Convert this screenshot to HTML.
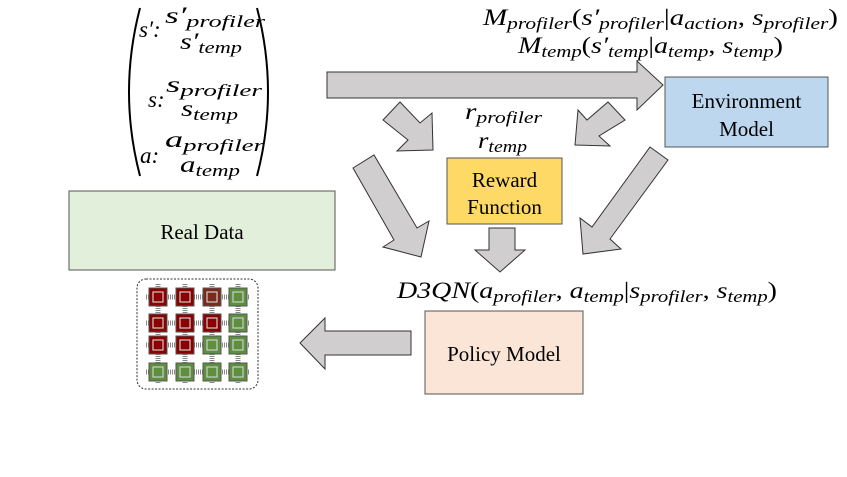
<!DOCTYPE html>
<html><head><meta charset="utf-8"><style>
html,body{margin:0;padding:0;background:#fff;}
svg{display:block;}
text{font-family:"Liberation Serif",serif;}
.m{font-style:italic;font-size:23px;}
.n{font-style:normal;font-size:23px;}
.s{font-style:italic;font-size:17px;}
.lbl{font-family:"Liberation Serif",serif;font-size:21px;}
</style></head><body>
<svg width="847" height="477" viewBox="0 0 847 477" xmlns="http://www.w3.org/2000/svg">
<g fill="#d0cece" stroke="#333" stroke-width="1">
<polygon points="327,72 637,72 637,61 663,85 637,110 637,98 327,98"/>
<polygon points="383,120 400,102 420,123 432,113 433,150 397,151 408,140"/>
<polygon points="625,120 608,102 587,120 578,110 575,145 610,146 599,136"/>
<polygon points="353,168 374,155 417,228 429,221 421,257 383,247 394,240"/>
<polygon points="650,147 668,160 610,239 621,249 583,254 580,218 592,227"/>
<polygon points="489,228 515,228 515,250 525,250 500,272 475,250 489,250"/>
<polygon points="411,331 411,355 325,355 325,369 300,343 325,318 325,331"/>
</g>
<rect x="665" y="77" width="163" height="70" fill="#bdd7ee" stroke="#555"/>
<text x="746.5" y="108" text-anchor="middle" class="lbl">Environment</text>
<text x="746.5" y="136" text-anchor="middle" class="lbl">Model</text>
<rect x="447" y="158" width="115" height="66" fill="#ffd966" stroke="#555"/>
<text x="504.5" y="187" text-anchor="middle" class="lbl">Reward</text>
<text x="504.5" y="214" text-anchor="middle" class="lbl">Function</text>
<rect x="69" y="191" width="266" height="79" fill="#e2efda" stroke="#555"/>
<text x="202" y="239" text-anchor="middle" class="lbl">Real Data</text>
<rect x="425" y="311" width="158" height="83" fill="#fbe5d6" stroke="#555"/>
<text x="504" y="361" text-anchor="middle" class="lbl">Policy Model</text>
<text x="483" y="25" textLength="355" lengthAdjust="spacingAndGlyphs"><tspan class="m">M</tspan><tspan class="s" dy="4">profiler</tspan><tspan class="n" dy="-4">(</tspan><tspan class="m">s′</tspan><tspan class="s" dy="4">profiler</tspan><tspan class="n" dy="-4">|</tspan><tspan class="m">a</tspan><tspan class="s" dy="4">action</tspan><tspan class="n" dy="-4">, </tspan><tspan class="m">s</tspan><tspan class="s" dy="4">profiler</tspan><tspan class="n" dy="-4">)</tspan></text>
<text x="518" y="53" textLength="265" lengthAdjust="spacingAndGlyphs"><tspan class="m">M</tspan><tspan class="s" dy="4">temp</tspan><tspan class="n" dy="-4">(</tspan><tspan class="m">s′</tspan><tspan class="s" dy="4">temp</tspan><tspan class="n" dy="-4">|</tspan><tspan class="m">a</tspan><tspan class="s" dy="4">temp</tspan><tspan class="n" dy="-4">, </tspan><tspan class="m">s</tspan><tspan class="s" dy="4">temp</tspan><tspan class="n" dy="-4">)</tspan></text>
<text x="465" y="119" textLength="77" lengthAdjust="spacingAndGlyphs"><tspan class="m">r</tspan><tspan class="s" dy="4">profiler</tspan></text>
<text x="478" y="148" textLength="49" lengthAdjust="spacingAndGlyphs"><tspan class="m">r</tspan><tspan class="s" dy="4">temp</tspan></text>
<text x="397" y="298" textLength="380" lengthAdjust="spacingAndGlyphs"><tspan class="m">D3QN</tspan><tspan class="n">(</tspan><tspan class="m">a</tspan><tspan class="s" dy="4">profiler</tspan><tspan class="n" dy="-4">, </tspan><tspan class="m">a</tspan><tspan class="s" dy="4">temp</tspan><tspan class="n" dy="-4">|</tspan><tspan class="m">s</tspan><tspan class="s" dy="4">profiler</tspan><tspan class="n" dy="-4">, </tspan><tspan class="m">s</tspan><tspan class="s" dy="4">temp</tspan><tspan class="n" dy="-4">)</tspan></text>
<path d="M140,8 Q118,92 140,176" fill="none" stroke="#000" stroke-width="2"/>
<path d="M257,8 Q279,92 257,176" fill="none" stroke="#000" stroke-width="2"/>
<text x="139" y="37" class="m">s′:</text>
<text x="165" y="23" textLength="100" lengthAdjust="spacingAndGlyphs"><tspan class="m">s′</tspan><tspan class="s" dy="4">profiler</tspan></text>
<text x="180" y="49" textLength="62" lengthAdjust="spacingAndGlyphs"><tspan class="m">s′</tspan><tspan class="s" dy="4">temp</tspan></text>
<text x="148" y="107" class="m">s:</text>
<text x="166" y="92" textLength="96" lengthAdjust="spacingAndGlyphs"><tspan class="m">s</tspan><tspan class="s" dy="4">profiler</tspan></text>
<text x="181" y="116" textLength="57" lengthAdjust="spacingAndGlyphs"><tspan class="m">s</tspan><tspan class="s" dy="4">temp</tspan></text>
<text x="140" y="163" class="m">a:</text>
<text x="165" y="147" textLength="99" lengthAdjust="spacingAndGlyphs"><tspan class="m">a</tspan><tspan class="s" dy="4">profiler</tspan></text>
<text x="180" y="172" textLength="60" lengthAdjust="spacingAndGlyphs"><tspan class="m">a</tspan><tspan class="s" dy="4">temp</tspan></text>
<rect x="137" y="279" width="121" height="110" rx="9" fill="#fff" stroke="#333" stroke-dasharray="2,1.5"/>
<g stroke="#888" stroke-width="5" stroke-dasharray="1,1" fill="none">
<line x1="146" y1="297" x2="250" y2="297"/><line x1="146" y1="323" x2="250" y2="323"/>
<line x1="146" y1="345" x2="250" y2="345"/><line x1="146" y1="372" x2="250" y2="372"/>
<line x1="158" y1="284" x2="158" y2="384"/><line x1="185" y1="284" x2="185" y2="384"/>
<line x1="212" y1="284" x2="212" y2="384"/><line x1="238" y1="284" x2="238" y2="384"/>
</g>
<g stroke="#555" stroke-width="1">
<rect x="149" y="288" width="18" height="18" fill="#8b0000"/><rect x="176" y="288" width="18" height="18" fill="#8b0000"/><rect x="203" y="288" width="18" height="18" fill="#7a2a1a"/><rect x="229" y="288" width="18" height="18" fill="#5e8f3e"/>
<rect x="149" y="314" width="18" height="18" fill="#8b0000"/><rect x="176" y="314" width="18" height="18" fill="#8b0000"/><rect x="203" y="314" width="18" height="18" fill="#8b0000"/><rect x="229" y="314" width="18" height="18" fill="#5e8f3e"/>
<rect x="149" y="336" width="18" height="18" fill="#8b0000"/><rect x="176" y="336" width="18" height="18" fill="#8b0000"/><rect x="203" y="336" width="18" height="18" fill="#5e8f3e"/><rect x="229" y="336" width="18" height="18" fill="#5e8f3e"/>
<rect x="149" y="363" width="18" height="18" fill="#5e8f3e"/><rect x="176" y="363" width="18" height="18" fill="#5e8f3e"/><rect x="203" y="363" width="18" height="18" fill="#5e8f3e"/><rect x="229" y="363" width="18" height="18" fill="#5e8f3e"/>
</g>
<g fill="none" stroke="#ccc" stroke-width="1.2">
<rect x="153" y="292" width="10" height="10"/><rect x="180" y="292" width="10" height="10"/><rect x="207" y="292" width="10" height="10"/><rect x="233" y="292" width="10" height="10"/>
<rect x="153" y="318" width="10" height="10"/><rect x="180" y="318" width="10" height="10"/><rect x="207" y="318" width="10" height="10"/><rect x="233" y="318" width="10" height="10"/>
<rect x="153" y="340" width="10" height="10"/><rect x="180" y="340" width="10" height="10"/><rect x="207" y="340" width="10" height="10"/><rect x="233" y="340" width="10" height="10"/>
<rect x="153" y="367" width="10" height="10"/><rect x="180" y="367" width="10" height="10"/><rect x="207" y="367" width="10" height="10"/><rect x="233" y="367" width="10" height="10"/>
</g>
</svg>
</body></html>
